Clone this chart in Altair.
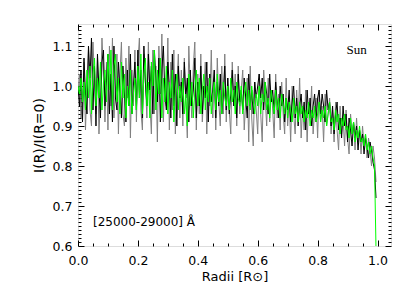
import altair as alt
import numpy as np
import pandas as pd

# --- data (I(R)/I(R=0) versus radius) ---
grey_vals = [
    0.98, 1.03, 0.92, 0.96, 1.06, 0.89, 1.01, 1.09, 0.94, 0.90,
    1.11, 1.02, 0.93, 1.07, 0.88, 0.97, 1.12, 1.04, 0.91, 1.06,
    0.89, 1.10, 0.95, 1.12, 0.92, 0.99, 1.08, 0.88, 1.03, 1.11,
    0.93, 0.90, 1.07, 0.97, 1.10, 0.87, 1.04, 0.95, 1.09, 0.91,
    1.06, 1.12, 0.94, 0.89, 1.08, 1.01, 0.92, 1.11, 0.96, 0.88,
    1.09, 0.93, 1.05, 0.86, 1.10, 0.98, 1.13, 0.91, 1.02, 0.95,
    1.12, 0.89, 1.06, 0.94, 1.09, 0.88, 1.00, 1.08, 0.92, 1.04,
    0.90, 1.07, 0.96, 0.87, 1.10, 0.99, 0.92, 1.05, 1.11, 0.89,
    1.03, 0.93, 1.08, 0.91, 0.98, 1.06, 0.88, 1.02, 0.95, 1.09,
    0.92, 1.04, 0.89, 1.07, 0.96, 0.90, 1.05, 0.93, 1.08, 0.91,
    1.02, 0.94, 0.88, 1.06, 0.97, 1.03, 0.90, 1.05, 0.93, 0.99,
    1.04, 0.89, 0.96, 1.02, 0.86, 1.05, 0.92, 0.85, 1.01, 0.94,
    0.88, 1.03, 0.93, 0.86, 1.04, 0.97, 0.90, 1.02, 0.91, 0.99,
    0.94, 0.87, 1.03, 0.92, 0.98, 0.89, 1.01, 0.93, 0.88, 1.02,
    0.90, 0.97, 0.86, 1.00, 0.93, 0.88, 0.99, 0.91, 1.02, 0.87,
    0.95, 0.89, 0.99, 0.86, 0.96, 0.92, 1.00, 0.88, 0.94, 0.97,
    0.87, 0.99, 0.91, 0.95, 0.86, 0.98, 0.90, 0.93, 0.97, 0.88,
    0.94, 0.86, 0.96, 0.89, 0.84, 0.95, 0.88, 0.92, 0.85, 0.94,
    0.87, 0.83, 0.93, 0.88, 0.91, 0.84, 0.92, 0.86, 0.89, 0.83,
    0.90, 0.85, 0.88, 0.82, 0.87, 0.84, 0.80, 0.85, 0.82, 0.76,
]
black_vals = [
    1.00, 0.95, 1.04, 0.91, 1.07, 0.98, 0.93, 1.10, 1.02, 1.12,
    0.94, 1.05, 0.90, 1.08, 0.99, 0.92, 1.06, 1.09, 0.95, 1.01,
    1.08, 0.93, 1.03, 0.91, 1.10, 0.97, 0.94, 1.06, 0.99, 0.92,
    1.05, 0.98, 0.91, 1.04, 0.95, 1.08, 0.93, 1.00, 1.06, 0.94,
    1.09, 0.97, 1.04, 0.92, 1.10, 1.01, 0.95, 1.08, 0.99, 1.05,
    0.93, 1.09, 1.02, 0.96, 1.07, 0.91, 1.04, 1.10, 0.98, 0.94,
    1.06, 1.00, 0.92, 1.08, 0.95, 1.03, 0.90, 1.05, 0.97, 1.01,
    0.93, 1.06, 0.97, 1.02, 0.91, 1.04, 0.95, 0.99, 1.07, 0.92,
    1.01, 0.95, 1.05, 0.93, 1.00, 0.97, 1.06, 0.91, 1.03, 0.96,
    0.99, 1.04, 0.92, 1.01, 0.95, 1.03, 0.93, 0.98, 1.05, 0.94,
    1.02, 0.93, 0.98, 1.04, 0.95, 1.00, 0.92, 1.03, 0.96, 0.99,
    0.94, 1.02, 0.97, 0.92, 1.03, 0.95, 0.99, 0.93, 1.01, 0.97,
    1.00, 1.03, 0.97, 1.02, 0.94, 1.01, 0.98, 0.93, 1.03, 0.96,
    0.99, 0.93, 1.01, 0.96, 0.92, 1.00, 0.95, 0.98, 0.91, 0.97,
    0.94, 0.99, 0.91, 0.96, 1.00, 0.92, 0.97, 0.90, 0.95, 0.98,
    0.92, 0.96, 0.89, 0.99, 0.93, 0.97, 0.90, 0.95, 0.98, 0.91,
    0.97, 0.99, 0.93, 0.98, 0.95, 0.91, 0.99, 0.94, 0.96, 0.90,
    0.95, 0.88, 0.93, 0.96, 0.89, 0.92, 0.87, 0.95, 0.90, 0.93,
    0.86, 0.92, 0.89, 0.85, 0.91, 0.87, 0.90, 0.84, 0.89, 0.86,
    0.88, 0.83, 0.87, 0.85, 0.82, 0.86, 0.84, 0.81, 0.79, 0.72,
]
green_vals = [
    1.00, 0.98, 1.02, 0.96, 1.01, 0.94, 1.04, 0.97, 1.05, 0.93,
    1.03, 1.07, 0.95, 1.02, 0.97, 1.06, 0.94, 1.01, 1.04, 0.96,
    1.08, 0.99, 1.09, 0.94, 1.05, 1.08, 0.96, 1.02, 0.93, 1.06,
    0.97, 1.03, 0.92, 1.00, 0.95, 1.04, 0.93, 0.98, 1.02, 0.94,
    1.05, 0.97, 1.08, 0.93, 1.03, 1.07, 0.95, 1.01, 0.92, 1.06,
    1.00, 1.09, 0.94, 1.04, 0.98, 1.07, 0.92, 1.02, 0.96, 1.05,
    0.93, 1.01, 0.97, 1.04, 0.91, 0.99, 1.03, 0.94, 1.00, 0.96,
    1.02, 0.93, 0.98, 0.90, 1.03, 0.95, 1.01, 0.92, 0.99, 1.04,
    0.95, 1.02, 0.93, 0.99, 1.03, 0.94, 1.00, 0.96, 1.02, 0.93,
    0.98, 1.01, 0.94, 1.03, 0.96, 0.99, 0.93, 1.01, 0.97, 0.95,
    1.00, 0.94, 1.02, 0.96, 0.99, 0.93, 1.01, 0.97, 0.95, 1.00,
    0.93, 0.98, 1.01, 0.95, 0.99, 0.94, 1.00, 0.96, 0.93, 0.98,
    0.95, 1.00, 0.93, 0.98, 0.96, 1.01, 0.94, 0.97, 0.92, 0.99,
    0.96, 0.93, 0.99, 0.94, 0.97, 0.92, 0.98, 0.95, 0.93, 0.97,
    0.92, 0.96, 0.94, 0.91, 0.97, 0.93, 0.95, 0.91, 0.96, 0.93,
    0.95, 0.91, 0.94, 0.92, 0.96, 0.90, 0.94, 0.92, 0.95, 0.91,
    0.93, 0.96, 0.91, 0.94, 0.92, 0.95, 0.90, 0.93, 0.96, 0.91,
    0.92, 0.89, 0.94, 0.91, 0.93, 0.88, 0.92, 0.90, 0.93, 0.89,
    0.90, 0.87, 0.92, 0.88, 0.91, 0.86, 0.89, 0.87, 0.90, 0.86,
    0.87, 0.85, 0.88, 0.84, 0.86, 0.83, 0.85, 0.82, 0.80, 0.59,
]
series_names = ["grey", "black", "green"]
series_colors = ["#808080", "#000000", "#00ff00"]

x_major = [0.0, 0.2, 0.4, 0.6, 0.8, 1.0]
y_major = [0.6, 0.7, 0.8, 0.9, 1.0, 1.1]
x_minor = [round(i * 0.05, 2) for i in range(21)]
y_minor = [round(0.6 + i * 0.01, 2) for i in range(56)]

N = len(grey_vals)
radii = np.linspace(0.0, 0.995, N)

rows = []
for name, vals in zip(series_names, [grey_vals, black_vals, green_vals]):
    for r, v in zip(radii, vals):
        rows.append({"r": float(r), "v": v, "s": name})
df = pd.DataFrame(rows)

W, H = 313, 222
xs = alt.Scale(domain=[0.0, 1.045], nice=False, zero=False)
ys = alt.Scale(domain=[0.6, 1.155], nice=False, zero=False)
FONT = "DejaVu Sans"

layers = []
for i, (name, col) in enumerate(zip(series_names, series_colors)):
    if i == 0:
        xa = alt.Axis(orient="bottom", values=x_major, format=".1f", ticks=False, tickSize=0,
                      domain=False, grid=False, labelFont=FONT, labelFontSize=12.5,
                      labelPadding=8, labelFlush=False, labelColor="black",
                      title="Radii [R\u2299]", titleFont=FONT, titleFontSize=13,
                      titleFontWeight="normal", titlePadding=4, titleColor="black")
        ya = alt.Axis(orient="left", values=y_major, format=".1f", ticks=False, tickSize=0,
                      domain=False, grid=False, labelFont=FONT, labelFontSize=12.5,
                      labelPadding=6, labelFlush=False, labelColor="black",
                      title="I(R)/I(R=0)", titleFont=FONT, titleFontSize=14,
                      titleFontWeight="normal", titlePadding=6, titleColor="black")
    else:
        xa = None
        ya = None
    layers.append(
        alt.Chart(df).transform_filter(alt.datum.s == name)
        .mark_line(color=col, strokeWidth=1, clip=True)
        .encode(x=alt.X("r:Q", scale=xs, axis=xa), y=alt.Y("v:Q", scale=ys, axis=ya))
    )

cond_x = {"condition": {"test": "abs(datum.value*5 - round(datum.value*5)) < 0.001", "value": 6}, "value": 3}
cond_y = {"condition": {"test": "abs(datum.value*10 - round(datum.value*10)) < 0.001", "value": 6}, "value": 3}

tick_df = pd.DataFrame({"r": [0.5], "v": [1.0]})

def tick_layer(xorient, yorient):
    return alt.Chart(tick_df).mark_point(opacity=0).encode(
        x=alt.X("r:Q", scale=xs, axis=alt.Axis(orient=xorient, offset=-H, values=x_minor,
                 labels=False, domain=False, grid=False, title=None,
                 tickSize=cond_x, tickColor="black", tickWidth=1)),
        y=alt.Y("v:Q", scale=ys, axis=alt.Axis(orient=yorient, offset=-W, values=y_minor,
                 labels=False, domain=False, grid=False, title=None,
                 tickSize=cond_y, tickColor="black", tickWidth=1)),
    )

layers.append(tick_layer("bottom", "right"))
layers.append(tick_layer("top", "left"))

ann_df = pd.DataFrame({"r": [0.93], "v": [1.089], "t": ["Sun"]})
ann2_df = pd.DataFrame({"r": [0.05], "v": [0.659], "t": ["[25000-29000] \u00c5"]})
layers.append(alt.Chart(ann_df).mark_text(font="Liberation Serif", fontSize=13, color="black",
                                          align="center", baseline="middle")
              .encode(x=alt.X("r:Q", scale=xs, axis=None), y=alt.Y("v:Q", scale=ys, axis=None), text="t:N"))
layers.append(alt.Chart(ann2_df).mark_text(font=FONT, fontSize=12, color="black",
                                           align="left", baseline="middle")
              .encode(x=alt.X("r:Q", scale=xs, axis=None), y=alt.Y("v:Q", scale=ys, axis=None), text="t:N"))

chart = (
    alt.layer(*layers)
    .resolve_axis(x="independent", y="independent")
    .properties(width=W, height=H, autosize="none",
                padding={"left": 70, "top": 16, "right": 16, "bottom": 43})
    .configure_view(stroke="black", strokeWidth=1.6)
    .configure(background="white")
)

chart.save("out.html", embed_options={"renderer": "svg", "actions": False})
